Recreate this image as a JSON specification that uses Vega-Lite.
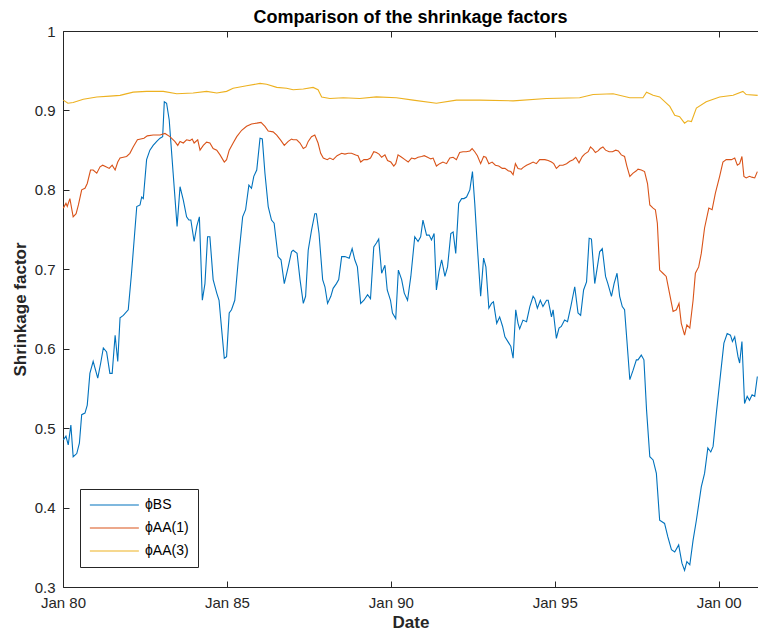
{
  "$schema": "https://vega.github.io/schema/vega-lite/v6.json",
  "width": 695,
  "height": 556,
  "autosize": "none",
  "padding": {"left": 63, "top": 31, "right": 0, "bottom": 50},
  "background": "white",
  "title": {"text": "Comparison of the shrinkage factors", "fontSize": 18, "fontWeight": "bold", "font": "Liberation Sans", "color": "#000000", "offset": -3, "anchor": "middle"},
  "config": {
    "view": {"stroke": null},
    "axis": {"labelFont": "Liberation Sans", "titleFont": "Liberation Sans", "labelColor": "#262626", "titleColor": "#262626", "domainColor": "#262626", "tickColor": "#262626", "grid": false, "labelFontSize": 15, "titleFontSize": 17, "titleFontWeight": "bold", "domainWidth": 1, "tickWidth": 1}
  },
  "data": {"values": [
    {"series":"BS","year":1980.01,"value":0.485},{"series":"BS","year":1980.09,"value":0.49},{"series":"BS","year":1980.16,"value":0.479},{"series":"BS","year":1980.24,"value":0.504},{"series":"BS","year":1980.31,"value":0.464},{"series":"BS","year":1980.42,"value":0.468},{"series":"BS","year":1980.5,"value":0.481},{"series":"BS","year":1980.57,"value":0.517},{"series":"BS","year":1980.67,"value":0.519},{"series":"BS","year":1980.74,"value":0.529},{"series":"BS","year":1980.82,"value":0.569},{"series":"BS","year":1980.92,"value":0.584},{"series":"BS","year":1981.06,"value":0.563},{"series":"BS","year":1981.15,"value":0.582},{"series":"BS","year":1981.23,"value":0.601},{"series":"BS","year":1981.33,"value":0.596},{"series":"BS","year":1981.43,"value":0.569},{"series":"BS","year":1981.5,"value":0.569},{"series":"BS","year":1981.59,"value":0.617},{"series":"BS","year":1981.67,"value":0.584},{"series":"BS","year":1981.74,"value":0.639},{"series":"BS","year":1981.84,"value":0.642},{"series":"BS","year":1981.99,"value":0.649},{"series":"BS","year":1982.09,"value":0.695},{"series":"BS","year":1982.25,"value":0.779},{"series":"BS","year":1982.35,"value":0.781},{"series":"BS","year":1982.4,"value":0.791},{"series":"BS","year":1982.45,"value":0.789},{"series":"BS","year":1982.55,"value":0.838},{"series":"BS","year":1982.65,"value":0.85},{"series":"BS","year":1982.75,"value":0.856},{"series":"BS","year":1982.86,"value":0.861},{"series":"BS","year":1982.96,"value":0.865},{"series":"BS","year":1983.04,"value":0.867},{"series":"BS","year":1983.09,"value":0.911},{"series":"BS","year":1983.16,"value":0.909},{"series":"BS","year":1983.24,"value":0.888},{"series":"BS","year":1983.36,"value":0.821},{"series":"BS","year":1983.48,"value":0.754},{"series":"BS","year":1983.57,"value":0.804},{"series":"BS","year":1983.67,"value":0.787},{"series":"BS","year":1983.77,"value":0.766},{"series":"BS","year":1983.84,"value":0.762},{"series":"BS","year":1983.9,"value":0.762},{"series":"BS","year":1984.0,"value":0.735},{"series":"BS","year":1984.08,"value":0.754},{"series":"BS","year":1984.16,"value":0.766},{"series":"BS","year":1984.25,"value":0.661},{"series":"BS","year":1984.33,"value":0.682},{"series":"BS","year":1984.41,"value":0.741},{"series":"BS","year":1984.48,"value":0.741},{"series":"BS","year":1984.58,"value":0.687},{"series":"BS","year":1984.69,"value":0.67},{"series":"BS","year":1984.76,"value":0.661},{"series":"BS","year":1984.84,"value":0.624},{"series":"BS","year":1984.92,"value":0.588},{"series":"BS","year":1984.99,"value":0.59},{"series":"BS","year":1985.07,"value":0.645},{"series":"BS","year":1985.14,"value":0.649},{"series":"BS","year":1985.24,"value":0.661},{"series":"BS","year":1985.34,"value":0.708},{"series":"BS","year":1985.48,"value":0.766},{"series":"BS","year":1985.57,"value":0.775},{"series":"BS","year":1985.67,"value":0.806},{"series":"BS","year":1985.75,"value":0.802},{"series":"BS","year":1985.82,"value":0.817},{"series":"BS","year":1985.91,"value":0.825},{"series":"BS","year":1986.01,"value":0.865},{"series":"BS","year":1986.08,"value":0.864},{"series":"BS","year":1986.16,"value":0.821},{"series":"BS","year":1986.26,"value":0.779},{"series":"BS","year":1986.36,"value":0.762},{"series":"BS","year":1986.44,"value":0.758},{"series":"BS","year":1986.56,"value":0.716},{"series":"BS","year":1986.65,"value":0.712},{"series":"BS","year":1986.75,"value":0.682},{"series":"BS","year":1986.87,"value":0.703},{"series":"BS","year":1986.97,"value":0.722},{"series":"BS","year":1987.02,"value":0.724},{"series":"BS","year":1987.14,"value":0.72},{"series":"BS","year":1987.23,"value":0.687},{"series":"BS","year":1987.33,"value":0.657},{"series":"BS","year":1987.4,"value":0.666},{"series":"BS","year":1987.48,"value":0.724},{"series":"BS","year":1987.58,"value":0.749},{"series":"BS","year":1987.68,"value":0.77},{"series":"BS","year":1987.73,"value":0.77},{"series":"BS","year":1987.81,"value":0.745},{"series":"BS","year":1987.92,"value":0.687},{"series":"BS","year":1987.99,"value":0.678},{"series":"BS","year":1988.07,"value":0.657},{"series":"BS","year":1988.17,"value":0.666},{"series":"BS","year":1988.24,"value":0.676},{"series":"BS","year":1988.34,"value":0.682},{"series":"BS","year":1988.41,"value":0.687},{"series":"BS","year":1988.5,"value":0.716},{"series":"BS","year":1988.6,"value":0.716},{"series":"BS","year":1988.73,"value":0.714},{"series":"BS","year":1988.82,"value":0.726},{"series":"BS","year":1988.9,"value":0.712},{"series":"BS","year":1988.98,"value":0.703},{"series":"BS","year":1989.08,"value":0.657},{"series":"BS","year":1989.18,"value":0.661},{"series":"BS","year":1989.29,"value":0.668},{"series":"BS","year":1989.38,"value":0.663},{"series":"BS","year":1989.48,"value":0.728},{"series":"BS","year":1989.56,"value":0.733},{"series":"BS","year":1989.63,"value":0.738},{"series":"BS","year":1989.72,"value":0.695},{"series":"BS","year":1989.82,"value":0.705},{"series":"BS","year":1989.89,"value":0.674},{"series":"BS","year":1989.99,"value":0.661},{"series":"BS","year":1990.05,"value":0.645},{"series":"BS","year":1990.15,"value":0.638},{"series":"BS","year":1990.23,"value":0.699},{"series":"BS","year":1990.33,"value":0.687},{"series":"BS","year":1990.41,"value":0.67},{"series":"BS","year":1990.51,"value":0.661},{"series":"BS","year":1990.61,"value":0.691},{"series":"BS","year":1990.73,"value":0.741},{"series":"BS","year":1990.83,"value":0.735},{"series":"BS","year":1990.91,"value":0.741},{"series":"BS","year":1990.98,"value":0.762},{"series":"BS","year":1991.09,"value":0.743},{"series":"BS","year":1991.17,"value":0.743},{"series":"BS","year":1991.24,"value":0.737},{"series":"BS","year":1991.32,"value":0.745},{"series":"BS","year":1991.39,"value":0.674},{"series":"BS","year":1991.47,"value":0.697},{"series":"BS","year":1991.55,"value":0.712},{"series":"BS","year":1991.65,"value":0.691},{"series":"BS","year":1991.73,"value":0.703},{"series":"BS","year":1991.83,"value":0.745},{"series":"BS","year":1991.9,"value":0.747},{"series":"BS","year":1991.98,"value":0.72},{"series":"BS","year":1992.07,"value":0.783},{"series":"BS","year":1992.16,"value":0.789},{"series":"BS","year":1992.23,"value":0.789},{"series":"BS","year":1992.31,"value":0.791},{"series":"BS","year":1992.41,"value":0.8},{"series":"BS","year":1992.49,"value":0.823},{"series":"BS","year":1992.56,"value":0.783},{"series":"BS","year":1992.64,"value":0.728},{"series":"BS","year":1992.74,"value":0.666},{"series":"BS","year":1992.83,"value":0.714},{"series":"BS","year":1992.9,"value":0.703},{"series":"BS","year":1992.99,"value":0.651},{"series":"BS","year":1993.07,"value":0.657},{"series":"BS","year":1993.13,"value":0.659},{"series":"BS","year":1993.23,"value":0.632},{"series":"BS","year":1993.32,"value":0.64},{"series":"BS","year":1993.41,"value":0.628},{"series":"BS","year":1993.48,"value":0.615},{"series":"BS","year":1993.6,"value":0.607},{"series":"BS","year":1993.66,"value":0.603},{"series":"BS","year":1993.73,"value":0.588},{"series":"BS","year":1993.81,"value":0.649},{"series":"BS","year":1993.88,"value":0.632},{"series":"BS","year":1993.93,"value":0.625},{"series":"BS","year":1994.03,"value":0.636},{"series":"BS","year":1994.14,"value":0.634},{"series":"BS","year":1994.24,"value":0.653},{"series":"BS","year":1994.34,"value":0.666},{"series":"BS","year":1994.39,"value":0.663},{"series":"BS","year":1994.47,"value":0.651},{"series":"BS","year":1994.56,"value":0.661},{"series":"BS","year":1994.64,"value":0.653},{"series":"BS","year":1994.75,"value":0.661},{"series":"BS","year":1994.8,"value":0.661},{"series":"BS","year":1994.9,"value":0.64},{"series":"BS","year":1994.95,"value":0.649},{"series":"BS","year":1995.05,"value":0.613},{"series":"BS","year":1995.13,"value":0.626},{"series":"BS","year":1995.2,"value":0.628},{"series":"BS","year":1995.3,"value":0.636},{"series":"BS","year":1995.39,"value":0.634},{"series":"BS","year":1995.49,"value":0.653},{"series":"BS","year":1995.61,"value":0.678},{"series":"BS","year":1995.71,"value":0.645},{"series":"BS","year":1995.79,"value":0.642},{"series":"BS","year":1995.88,"value":0.674},{"series":"BS","year":1995.97,"value":0.684},{"series":"BS","year":1996.05,"value":0.739},{"series":"BS","year":1996.12,"value":0.738},{"series":"BS","year":1996.22,"value":0.682},{"series":"BS","year":1996.3,"value":0.703},{"series":"BS","year":1996.37,"value":0.722},{"series":"BS","year":1996.45,"value":0.726},{"series":"BS","year":1996.55,"value":0.691},{"series":"BS","year":1996.62,"value":0.682},{"series":"BS","year":1996.73,"value":0.666},{"series":"BS","year":1996.81,"value":0.682},{"series":"BS","year":1996.9,"value":0.695},{"series":"BS","year":1996.98,"value":0.666},{"series":"BS","year":1997.06,"value":0.653},{"series":"BS","year":1997.13,"value":0.649},{"series":"BS","year":1997.2,"value":0.611},{"series":"BS","year":1997.29,"value":0.561},{"series":"BS","year":1997.39,"value":0.573},{"series":"BS","year":1997.49,"value":0.586},{"series":"BS","year":1997.54,"value":0.586},{"series":"BS","year":1997.64,"value":0.592},{"series":"BS","year":1997.72,"value":0.586},{"series":"BS","year":1997.8,"value":0.523},{"series":"BS","year":1997.9,"value":0.464},{"series":"BS","year":1998.0,"value":0.46},{"series":"BS","year":1998.1,"value":0.443},{"series":"BS","year":1998.2,"value":0.384},{"series":"BS","year":1998.35,"value":0.38},{"series":"BS","year":1998.45,"value":0.363},{"series":"BS","year":1998.56,"value":0.347},{"series":"BS","year":1998.66,"value":0.344},{"series":"BS","year":1998.78,"value":0.353},{"series":"BS","year":1998.88,"value":0.33},{"series":"BS","year":1998.96,"value":0.321},{"series":"BS","year":1999.03,"value":0.332},{"series":"BS","year":1999.12,"value":0.328},{"series":"BS","year":1999.22,"value":0.359},{"series":"BS","year":1999.32,"value":0.384},{"series":"BS","year":1999.47,"value":0.426},{"series":"BS","year":1999.57,"value":0.443},{"series":"BS","year":1999.67,"value":0.475},{"series":"BS","year":1999.76,"value":0.47},{"series":"BS","year":1999.83,"value":0.477},{"series":"BS","year":1999.93,"value":0.519},{"series":"BS","year":2000.06,"value":0.569},{"series":"BS","year":2000.16,"value":0.607},{"series":"BS","year":2000.26,"value":0.619},{"series":"BS","year":2000.36,"value":0.617},{"series":"BS","year":2000.42,"value":0.609},{"series":"BS","year":2000.49,"value":0.615},{"series":"BS","year":2000.59,"value":0.59},{"series":"BS","year":2000.64,"value":0.582},{"series":"BS","year":2000.71,"value":0.609},{"series":"BS","year":2000.79,"value":0.531},{"series":"BS","year":2000.87,"value":0.54},{"series":"BS","year":2000.94,"value":0.535},{"series":"BS","year":2001.02,"value":0.542},{"series":"BS","year":2001.1,"value":0.54},{"series":"BS","year":2001.18,"value":0.565},
    {"series":"AA1","year":1980.01,"value":0.777},{"series":"AA1","year":1980.09,"value":0.783},{"series":"AA1","year":1980.13,"value":0.779},{"series":"AA1","year":1980.21,"value":0.789},{"series":"AA1","year":1980.31,"value":0.766},{"series":"AA1","year":1980.4,"value":0.77},{"series":"AA1","year":1980.47,"value":0.781},{"series":"AA1","year":1980.57,"value":0.8},{"series":"AA1","year":1980.67,"value":0.802},{"series":"AA1","year":1980.74,"value":0.808},{"series":"AA1","year":1980.84,"value":0.825},{"series":"AA1","year":1980.92,"value":0.825},{"series":"AA1","year":1981.03,"value":0.821},{"series":"AA1","year":1981.13,"value":0.829},{"series":"AA1","year":1981.21,"value":0.831},{"series":"AA1","year":1981.31,"value":0.829},{"series":"AA1","year":1981.41,"value":0.827},{"series":"AA1","year":1981.5,"value":0.831},{"series":"AA1","year":1981.59,"value":0.825},{"series":"AA1","year":1981.67,"value":0.835},{"series":"AA1","year":1981.74,"value":0.84},{"series":"AA1","year":1981.84,"value":0.841},{"series":"AA1","year":1981.94,"value":0.842},{"series":"AA1","year":1982.04,"value":0.846},{"series":"AA1","year":1982.14,"value":0.854},{"series":"AA1","year":1982.27,"value":0.863},{"series":"AA1","year":1982.37,"value":0.864},{"series":"AA1","year":1982.47,"value":0.865},{"series":"AA1","year":1982.57,"value":0.868},{"series":"AA1","year":1982.75,"value":0.869},{"series":"AA1","year":1982.96,"value":0.869},{"series":"AA1","year":1983.11,"value":0.871},{"series":"AA1","year":1983.26,"value":0.867},{"series":"AA1","year":1983.41,"value":0.861},{"series":"AA1","year":1983.5,"value":0.856},{"series":"AA1","year":1983.57,"value":0.861},{"series":"AA1","year":1983.67,"value":0.859},{"series":"AA1","year":1983.77,"value":0.863},{"series":"AA1","year":1983.87,"value":0.862},{"series":"AA1","year":1983.94,"value":0.864},{"series":"AA1","year":1984.0,"value":0.859},{"series":"AA1","year":1984.11,"value":0.863},{"series":"AA1","year":1984.18,"value":0.85},{"series":"AA1","year":1984.28,"value":0.856},{"series":"AA1","year":1984.38,"value":0.86},{"series":"AA1","year":1984.48,"value":0.859},{"series":"AA1","year":1984.58,"value":0.852},{"series":"AA1","year":1984.69,"value":0.85},{"series":"AA1","year":1984.79,"value":0.844},{"series":"AA1","year":1984.92,"value":0.835},{"series":"AA1","year":1984.99,"value":0.838},{"series":"AA1","year":1985.07,"value":0.85},{"series":"AA1","year":1985.19,"value":0.859},{"series":"AA1","year":1985.3,"value":0.867},{"series":"AA1","year":1985.45,"value":0.875},{"series":"AA1","year":1985.6,"value":0.88},{"series":"AA1","year":1985.75,"value":0.883},{"series":"AA1","year":1985.91,"value":0.884},{"series":"AA1","year":1986.04,"value":0.885},{"series":"AA1","year":1986.16,"value":0.88},{"series":"AA1","year":1986.26,"value":0.874},{"series":"AA1","year":1986.41,"value":0.873},{"series":"AA1","year":1986.52,"value":0.869},{"series":"AA1","year":1986.65,"value":0.862},{"series":"AA1","year":1986.75,"value":0.856},{"series":"AA1","year":1986.87,"value":0.861},{"series":"AA1","year":1986.97,"value":0.864},{"series":"AA1","year":1987.02,"value":0.863},{"series":"AA1","year":1987.13,"value":0.863},{"series":"AA1","year":1987.23,"value":0.859},{"series":"AA1","year":1987.33,"value":0.852},{"series":"AA1","year":1987.41,"value":0.854},{"series":"AA1","year":1987.48,"value":0.861},{"series":"AA1","year":1987.58,"value":0.867},{"series":"AA1","year":1987.68,"value":0.869},{"series":"AA1","year":1987.78,"value":0.859},{"series":"AA1","year":1987.86,"value":0.846},{"series":"AA1","year":1987.94,"value":0.84},{"series":"AA1","year":1988.06,"value":0.838},{"series":"AA1","year":1988.14,"value":0.84},{"series":"AA1","year":1988.24,"value":0.838},{"series":"AA1","year":1988.36,"value":0.843},{"series":"AA1","year":1988.5,"value":0.846},{"series":"AA1","year":1988.6,"value":0.845},{"series":"AA1","year":1988.7,"value":0.846},{"series":"AA1","year":1988.8,"value":0.846},{"series":"AA1","year":1988.93,"value":0.844},{"series":"AA1","year":1989.0,"value":0.843},{"series":"AA1","year":1989.08,"value":0.835},{"series":"AA1","year":1989.18,"value":0.838},{"series":"AA1","year":1989.28,"value":0.838},{"series":"AA1","year":1989.38,"value":0.84},{"series":"AA1","year":1989.48,"value":0.848},{"series":"AA1","year":1989.56,"value":0.847},{"series":"AA1","year":1989.64,"value":0.845},{"series":"AA1","year":1989.72,"value":0.841},{"series":"AA1","year":1989.82,"value":0.844},{"series":"AA1","year":1989.9,"value":0.837},{"series":"AA1","year":1990.0,"value":0.835},{"series":"AA1","year":1990.09,"value":0.83},{"series":"AA1","year":1990.15,"value":0.833},{"series":"AA1","year":1990.22,"value":0.844},{"series":"AA1","year":1990.33,"value":0.841},{"series":"AA1","year":1990.43,"value":0.838},{"series":"AA1","year":1990.53,"value":0.835},{"series":"AA1","year":1990.63,"value":0.84},{"series":"AA1","year":1990.73,"value":0.839},{"series":"AA1","year":1990.83,"value":0.841},{"series":"AA1","year":1990.94,"value":0.842},{"series":"AA1","year":1991.02,"value":0.843},{"series":"AA1","year":1991.12,"value":0.841},{"series":"AA1","year":1991.22,"value":0.839},{"series":"AA1","year":1991.29,"value":0.84},{"series":"AA1","year":1991.39,"value":0.83},{"series":"AA1","year":1991.49,"value":0.833},{"series":"AA1","year":1991.59,"value":0.835},{"series":"AA1","year":1991.7,"value":0.833},{"series":"AA1","year":1991.8,"value":0.84},{"series":"AA1","year":1991.9,"value":0.841},{"series":"AA1","year":1992.0,"value":0.838},{"series":"AA1","year":1992.1,"value":0.847},{"series":"AA1","year":1992.2,"value":0.848},{"series":"AA1","year":1992.3,"value":0.848},{"series":"AA1","year":1992.41,"value":0.849},{"series":"AA1","year":1992.48,"value":0.852},{"series":"AA1","year":1992.56,"value":0.848},{"series":"AA1","year":1992.64,"value":0.843},{"series":"AA1","year":1992.74,"value":0.833},{"series":"AA1","year":1992.83,"value":0.842},{"series":"AA1","year":1992.9,"value":0.841},{"series":"AA1","year":1992.99,"value":0.833},{"series":"AA1","year":1993.09,"value":0.835},{"series":"AA1","year":1993.19,"value":0.831},{"series":"AA1","year":1993.29,"value":0.83},{"series":"AA1","year":1993.4,"value":0.827},{"series":"AA1","year":1993.48,"value":0.827},{"series":"AA1","year":1993.58,"value":0.824},{"series":"AA1","year":1993.66,"value":0.823},{"series":"AA1","year":1993.73,"value":0.819},{"series":"AA1","year":1993.8,"value":0.833},{"series":"AA1","year":1993.88,"value":0.827},{"series":"AA1","year":1993.98,"value":0.826},{"series":"AA1","year":1994.03,"value":0.828},{"series":"AA1","year":1994.14,"value":0.831},{"series":"AA1","year":1994.24,"value":0.833},{"series":"AA1","year":1994.34,"value":0.835},{"series":"AA1","year":1994.44,"value":0.833},{"series":"AA1","year":1994.54,"value":0.838},{"series":"AA1","year":1994.7,"value":0.838},{"series":"AA1","year":1994.8,"value":0.837},{"series":"AA1","year":1994.9,"value":0.835},{"series":"AA1","year":1994.97,"value":0.833},{"series":"AA1","year":1995.05,"value":0.827},{"series":"AA1","year":1995.15,"value":0.831},{"series":"AA1","year":1995.25,"value":0.831},{"series":"AA1","year":1995.36,"value":0.833},{"series":"AA1","year":1995.46,"value":0.836},{"series":"AA1","year":1995.56,"value":0.838},{"series":"AA1","year":1995.64,"value":0.841},{"series":"AA1","year":1995.74,"value":0.834},{"series":"AA1","year":1995.84,"value":0.842},{"series":"AA1","year":1995.91,"value":0.845},{"series":"AA1","year":1996.02,"value":0.848},{"series":"AA1","year":1996.09,"value":0.854},{"series":"AA1","year":1996.17,"value":0.851},{"series":"AA1","year":1996.24,"value":0.847},{"series":"AA1","year":1996.32,"value":0.849},{"series":"AA1","year":1996.39,"value":0.852},{"series":"AA1","year":1996.47,"value":0.854},{"series":"AA1","year":1996.55,"value":0.85},{"series":"AA1","year":1996.66,"value":0.848},{"series":"AA1","year":1996.76,"value":0.848},{"series":"AA1","year":1996.86,"value":0.85},{"series":"AA1","year":1996.94,"value":0.849},{"series":"AA1","year":1997.03,"value":0.844},{"series":"AA1","year":1997.13,"value":0.842},{"series":"AA1","year":1997.2,"value":0.83},{"series":"AA1","year":1997.29,"value":0.817},{"series":"AA1","year":1997.39,"value":0.821},{"series":"AA1","year":1997.49,"value":0.824},{"series":"AA1","year":1997.54,"value":0.826},{"series":"AA1","year":1997.64,"value":0.825},{"series":"AA1","year":1997.74,"value":0.823},{"series":"AA1","year":1997.83,"value":0.808},{"series":"AA1","year":1997.9,"value":0.781},{"series":"AA1","year":1998.0,"value":0.777},{"series":"AA1","year":1998.07,"value":0.775},{"series":"AA1","year":1998.13,"value":0.758},{"series":"AA1","year":1998.2,"value":0.699},{"series":"AA1","year":1998.3,"value":0.695},{"series":"AA1","year":1998.4,"value":0.691},{"series":"AA1","year":1998.5,"value":0.67},{"series":"AA1","year":1998.61,"value":0.647},{"series":"AA1","year":1998.71,"value":0.649},{"series":"AA1","year":1998.79,"value":0.657},{"series":"AA1","year":1998.86,"value":0.632},{"series":"AA1","year":1998.96,"value":0.617},{"series":"AA1","year":1999.03,"value":0.63},{"series":"AA1","year":1999.12,"value":0.626},{"series":"AA1","year":1999.22,"value":0.661},{"series":"AA1","year":1999.29,"value":0.695},{"series":"AA1","year":1999.39,"value":0.703},{"series":"AA1","year":1999.47,"value":0.72},{"series":"AA1","year":1999.57,"value":0.752},{"series":"AA1","year":1999.7,"value":0.777},{"series":"AA1","year":1999.8,"value":0.775},{"series":"AA1","year":1999.9,"value":0.796},{"series":"AA1","year":2000.03,"value":0.817},{"series":"AA1","year":2000.13,"value":0.835},{"series":"AA1","year":2000.23,"value":0.838},{"series":"AA1","year":2000.39,"value":0.838},{"series":"AA1","year":2000.49,"value":0.84},{"series":"AA1","year":2000.57,"value":0.831},{"series":"AA1","year":2000.64,"value":0.833},{"series":"AA1","year":2000.71,"value":0.842},{"series":"AA1","year":2000.77,"value":0.817},{"series":"AA1","year":2000.84,"value":0.815},{"series":"AA1","year":2000.94,"value":0.817},{"series":"AA1","year":2001.01,"value":0.816},{"series":"AA1","year":2001.1,"value":0.815},{"series":"AA1","year":2001.18,"value":0.823},
    {"series":"AA3","year":1980.01,"value":0.913},{"series":"AA3","year":1980.15,"value":0.909},{"series":"AA3","year":1980.31,"value":0.91},{"series":"AA3","year":1980.62,"value":0.914},{"series":"AA3","year":1981.03,"value":0.917},{"series":"AA3","year":1981.43,"value":0.918},{"series":"AA3","year":1981.74,"value":0.919},{"series":"AA3","year":1982.14,"value":0.923},{"series":"AA3","year":1982.55,"value":0.924},{"series":"AA3","year":1983.06,"value":0.924},{"series":"AA3","year":1983.47,"value":0.921},{"series":"AA3","year":1983.97,"value":0.922},{"series":"AA3","year":1984.38,"value":0.924},{"series":"AA3","year":1984.69,"value":0.922},{"series":"AA3","year":1984.99,"value":0.924},{"series":"AA3","year":1985.19,"value":0.928},{"series":"AA3","year":1985.6,"value":0.931},{"series":"AA3","year":1986.01,"value":0.934},{"series":"AA3","year":1986.21,"value":0.933},{"series":"AA3","year":1986.52,"value":0.929},{"series":"AA3","year":1986.82,"value":0.928},{"series":"AA3","year":1987.02,"value":0.926},{"series":"AA3","year":1987.33,"value":0.927},{"series":"AA3","year":1987.63,"value":0.929},{"series":"AA3","year":1987.78,"value":0.926},{"series":"AA3","year":1987.89,"value":0.917},{"series":"AA3","year":1988.14,"value":0.915},{"series":"AA3","year":1988.55,"value":0.916},{"series":"AA3","year":1989.05,"value":0.915},{"series":"AA3","year":1989.56,"value":0.917},{"series":"AA3","year":1990.17,"value":0.916},{"series":"AA3","year":1990.68,"value":0.913},{"series":"AA3","year":1991.39,"value":0.909},{"series":"AA3","year":1992.0,"value":0.913},{"series":"AA3","year":1992.71,"value":0.913},{"series":"AA3","year":1993.73,"value":0.912},{"series":"AA3","year":1994.75,"value":0.915},{"series":"AA3","year":1995.76,"value":0.916},{"series":"AA3","year":1996.17,"value":0.92},{"series":"AA3","year":1996.78,"value":0.921},{"series":"AA3","year":1997.29,"value":0.916},{"series":"AA3","year":1997.69,"value":0.916},{"series":"AA3","year":1997.8,"value":0.923},{"series":"AA3","year":1998.0,"value":0.919},{"series":"AA3","year":1998.2,"value":0.917},{"series":"AA3","year":1998.51,"value":0.905},{"series":"AA3","year":1998.66,"value":0.894},{"series":"AA3","year":1998.81,"value":0.892},{"series":"AA3","year":1998.96,"value":0.884},{"series":"AA3","year":1999.06,"value":0.887},{"series":"AA3","year":1999.17,"value":0.886},{"series":"AA3","year":1999.32,"value":0.903},{"series":"AA3","year":1999.62,"value":0.911},{"series":"AA3","year":2000.03,"value":0.917},{"series":"AA3","year":2000.44,"value":0.919},{"series":"AA3","year":2000.74,"value":0.924},{"series":"AA3","year":2000.84,"value":0.92},{"series":"AA3","year":2001.19,"value":0.919}
  ]},
  "layer": [
    {
      "mark": {"type": "line", "strokeWidth": 1.1, "clip": true},
      "encoding": {
        "x": {"field": "year", "type": "quantitative", "scale": {"domain": [1980, 2001.2], "nice": false, "zero": false},
          "axis": {"orient": "bottom", "values": [1980, 1985, 1990, 1995, 2000], "labelExpr": "'Jan ' + format(datum.value % 100, '02d')", "labelFlush": false, "tickSize": -6, "labelPadding": 14, "title": "Date", "titlePadding": 4}},
        "y": {"field": "value", "type": "quantitative", "scale": {"domain": [0.3, 1], "nice": false, "zero": false},
          "axis": {"values": [0.3, 0.4, 0.5, 0.6, 0.7, 0.8, 0.9, 1], "format": ".1~f", "labelFlush": false, "tickSize": -6, "labelPadding": 14, "title": "Shrinkage factor", "titlePadding": 5}},
        "color": {"field": "series", "type": "nominal",
          "scale": {"domain": ["BS", "AA1", "AA3"], "range": ["#0072BD", "#D95319", "#EDB120"]},
          "legend": {"orient": "none", "legendX": 17, "legendY": 458, "title": null, "labelExpr": "datum.value == 'BS' ? 'ϕBS' : datum.value == 'AA1' ? 'ϕAA(1)' : 'ϕAA(3)'", "symbolType": "M-1,0H7", "symbolSize": 150, "symbolStrokeWidth": 1.1, "labelFont": "Liberation Sans", "labelFontSize": 14, "labelColor": "#000000", "strokeColor": "#262626", "fillColor": "white", "padding": 9, "rowPadding": 9, "labelOffset": 42,
            "encode": {"symbols": {"update": {"stroke": {"scale": "color", "field": "value"}, "fill": {"value": "transparent"}}}}}}
      }
    },
    {
      "mark": {"type": "line", "opacity": 0},
      "encoding": {
        "x": {"field": "year", "type": "quantitative", "axis": {"orient": "top", "values": [1980, 1985, 1990, 1995, 2000], "labels": false, "tickSize": -6, "title": null}},
        "y": {"field": "value", "type": "quantitative", "axis": null}
      }
    }
  ],
  "resolve": {"axis": {"x": "independent", "y": "independent"}}
}
